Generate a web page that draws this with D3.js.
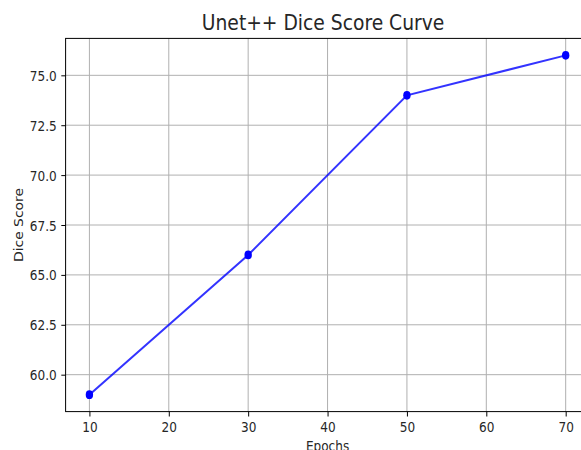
<!DOCTYPE html>
<html><head><meta charset="utf-8">
<script src="https://cdn.jsdelivr.net/npm/d3@7"></script>
<style>
html,body{margin:0;padding:0;background:#fff;overflow:hidden;}
svg{display:block;}
text{font-family:"DejaVu Sans",sans-serif;fill:#262626;}
</style></head>
<body>
<script>
const epochs = [10, 30, 50, 70];
const diceScores = [59, 66, 74, 76];
const xTicks = [10, 20, 30, 40, 50, 60, 70];
const yTicks = [60.0, 62.5, 65.0, 67.5, 70.0, 72.5, 75.0];
const titleText = "Unet++ Dice Score Curve";
const xLabel = "Epochs";
const yLabel = "Dice Score";

const W = 581, H = 450;
const SX = 0.87; // horizontal squeeze of the reference image
const svg = d3.select("body").append("svg").attr("width", W).attr("height", H);

const pL = 65.6, pR = 589.5, pT = 38.4, pB = 411.6;
const x = d3.scaleLinear().domain([7, 73]).range([pL, pR]);
const y = d3.scaleLinear().domain([58.15, 76.85]).range([pB, pT]);

// grid
const g = svg.append("g");
g.append("g").selectAll("line").data(xTicks).join("line")
  .attr("x1", d => x(d)).attr("x2", d => x(d)).attr("y1", pT).attr("y2", pB)
  .attr("stroke", "#b0b0b0").attr("stroke-width", 1);
g.append("g").selectAll("line").data(yTicks).join("line")
  .attr("y1", d => y(d)).attr("y2", d => y(d)).attr("x1", pL).attr("x2", pR)
  .attr("stroke", "#b0b0b0").attr("stroke-width", 1);

// axes
const xAxis = svg.append("g").attr("transform", `translate(0,${pB})`)
  .call(d3.axisBottom(x).tickValues(xTicks).tickFormat(d3.format("d")).tickSize(4.9).tickPadding(0));
const yAxis = svg.append("g").attr("transform", `translate(${pL},0)`)
  .call(d3.axisLeft(y).tickValues(yTicks).tickFormat(d3.format(".1f")).tickSize(4.3).tickPadding(0));
[xAxis, yAxis].forEach(a => { a.select(".domain").remove(); a.selectAll("line").attr("stroke", "#000").attr("stroke-width", 1); });
xAxis.selectAll("text").attr("y", null).attr("dy", null)
  .attr("transform", `translate(0,20.1) scale(${SX},1)`)
  .style("font-size", "13.9px").style("font-family", "DejaVu Sans").attr("fill", "#262626");
yAxis.selectAll("text").attr("x", null).attr("dy", "0.36em")
  .attr("transform", `translate(-8.9,0) scale(${SX},1)`)
  .style("font-size", "13.9px").style("font-family", "DejaVu Sans").attr("fill", "#262626");

// spines
svg.append("rect").attr("x", pL).attr("y", pT).attr("width", pR - pL).attr("height", pB - pT)
  .attr("fill", "none").attr("stroke", "#000").attr("stroke-width", 1);

// line + markers
const pts = epochs.map((e, i) => [e, diceScores[i]]);
svg.append("path").datum(pts)
  .attr("d", d3.line().x(d => x(d[0])).y(d => y(d[1])))
  .attr("fill", "none").attr("stroke", "#0000ff").attr("stroke-opacity", 0.8).attr("stroke-width", 2);
svg.append("g").selectAll("ellipse").data(pts).join("ellipse")
  .attr("cx", d => x(d[0])).attr("cy", d => y(d[1])).attr("rx", 3.7).attr("ry", 4.4)
  .attr("fill", "#0000ff");

// title and labels
svg.append("text").attr("transform", `translate(${(pL + pR) / 2 - 4.5},30) scale(${SX},1)`)
  .attr("text-anchor", "middle").style("font-size", "21.5px").text(titleText);
svg.append("text").attr("transform", `translate(${(pL + pR) / 2},450.5) scale(${SX},1)`)
  .attr("text-anchor", "middle").style("font-size", "13.9px").text(xLabel);
svg.append("text").attr("transform", `translate(22.7,${(pT + pB) / 2}) rotate(-90) scale(1,${SX})`)
  .attr("text-anchor", "middle").style("font-size", "13.9px").text(yLabel);
</script>
</body></html>
